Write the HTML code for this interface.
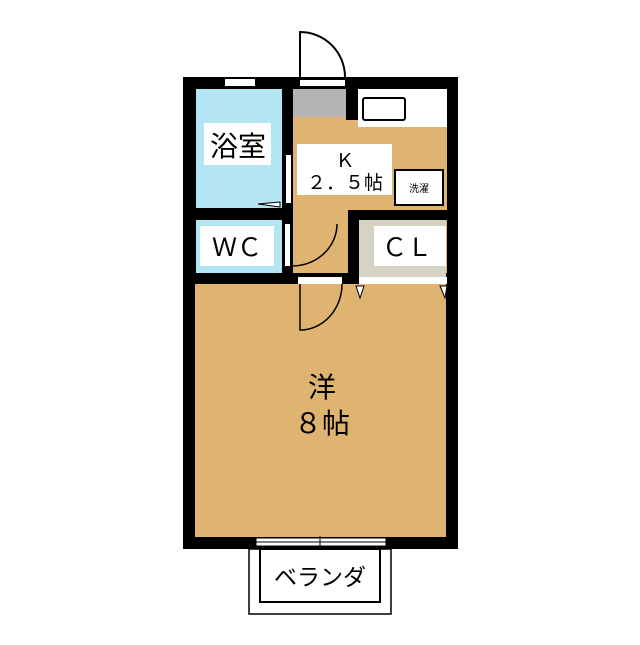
<!DOCTYPE html><html><head><meta charset="utf-8"><style>body{margin:0;background:#fff}</style></head><body>
<svg width="640" height="640" viewBox="0 0 640 640" xmlns="http://www.w3.org/2000/svg" font-family="Liberation Sans, Noto Sans CJK JP, sans-serif">
<rect x="183" y="77" width="275" height="472" fill="#000"/>
<rect x="196" y="89" width="86" height="119" fill="#b3e5f2"/>
<rect x="196" y="220" width="86" height="53" fill="#b3e5f2"/>
<rect x="293" y="89" width="154" height="184" fill="#dfb370"/>
<rect x="293" y="89" width="53" height="28" fill="#b4b4b4"/>
<rect x="346" y="89" width="12" height="31" fill="#000"/>
<rect x="358" y="89" width="89" height="38" fill="#fff"/>
<rect x="363" y="98" width="42" height="22" fill="#fff" stroke="#000" stroke-width="2" rx="2"/>
<rect x="348" y="210" width="110" height="10" fill="#000"/>
<rect x="348" y="210" width="11" height="74" fill="#000"/>
<rect x="359" y="220" width="87" height="57" fill="#d6d2c4"/>
<rect x="359" y="277" width="88" height="7" fill="#fff"/>
<rect x="195" y="284" width="251" height="253" fill="#dfb370"/>
<rect x="225" y="79" width="30" height="7" fill="#fff"/>
<rect x="300" y="80" width="45" height="6" fill="#fff"/>
<path d="M300 77 V32 A45 45 0 0 1 345 77" fill="none" stroke="#000" stroke-width="2"/>
<rect x="286" y="155" width="5" height="48" fill="#fff"/>
<path d="M280 202 L258 204 L280 207 Z" fill="#fff" stroke="#000"/>
<rect x="285" y="224" width="5" height="42" fill="#fff"/>
<path d="M292 266 A45 42 0 0 0 337 224" fill="none" stroke="#000" stroke-width="1.5"/>
<rect x="298" y="277" width="44" height="7" fill="#fff"/>
<path d="M300 284 V330 A42 46 0 0 0 342 284" fill="none" stroke="#000" stroke-width="1.5"/>
<path d="M356 286 L360 298 L364 286 Z M440 286 L445 298 L447 286 Z" fill="#fff" stroke="#000"/>
<rect x="256" y="538" width="130" height="8" fill="#fff" stroke="#000"/>
<line x1="256" y1="542" x2="386" y2="542" stroke="#000"/>
<line x1="320" y1="536" x2="320" y2="550" stroke="#000"/>
<rect x="249" y="549" width="142" height="65" fill="#fff" stroke="#000" stroke-width="1.5"/>
<rect x="260" y="549" width="120" height="53" fill="#fff" stroke="#000" stroke-width="2"/>
<rect x="204" y="123" width="67" height="42" fill="#fff"/>
<text x="238" y="156" font-size="28" text-anchor="middle">浴室</text>
<rect x="200" y="226" width="74" height="40" fill="#fff"/>
<text x="237" y="256" font-size="25" text-anchor="middle">ＷＣ</text>
<rect x="374" y="226" width="72" height="40" fill="#fff"/>
<text x="407" y="256" font-size="25" text-anchor="middle">ＣＬ</text>
<rect x="297" y="144" width="95" height="51" fill="#fff"/>
<text x="345" y="167" font-size="19" text-anchor="middle">Ｋ</text>
<text x="345" y="189" font-size="19" text-anchor="middle">２．５帖</text>
<rect x="395" y="170" width="48" height="35" fill="#fff" stroke="#000" stroke-width="2"/>
<text x="419" y="192" font-size="10" text-anchor="middle">洗濯</text>
<text x="322" y="397" font-size="28" text-anchor="middle">洋</text>
<text x="322" y="433" font-size="28" text-anchor="middle">８帖</text>
<text x="320" y="585" font-size="23" text-anchor="middle">ベランダ</text>
</svg></body></html>
